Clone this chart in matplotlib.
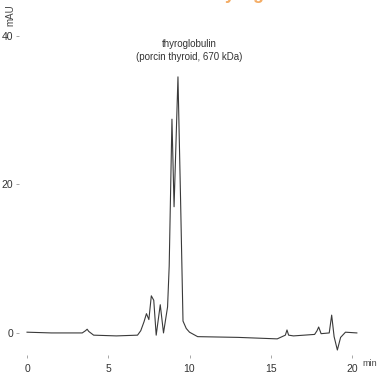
import matplotlib.pyplot as plt

plt.rcParams["font.family"] = ["Liberation Sans", "DejaVu Sans"]

# retention time (min) and absorbance (mAU)
time_min = [0.0, 1.5, 3.4, 3.6, 3.7, 3.8, 4.1, 5.5, 6.8, 7.0, 7.2, 7.35, 7.5,
            7.65, 7.8, 7.95, 8.2, 8.4, 8.65, 8.75, 8.92, 9.05, 9.29, 9.45,
            9.6, 9.8, 10.0, 10.5, 13.0, 15.4, 15.9, 16.0, 16.1, 16.4, 17.7,
            17.85, 17.95, 18.1, 18.6, 18.75, 18.9, 19.1, 19.3, 19.6, 20.3]
absorb = [0.1, 0.0, 0.0, 0.3, 0.5, 0.2, -0.3, -0.4, -0.3, 0.3, 1.5, 2.6, 1.8,
          5.0, 4.4, -0.3, 3.8, 0.0, 3.5, 9.0, 28.8, 17.0, 34.5, 18.0,
          1.6, 0.6, 0.1, -0.5, -0.6, -0.8, -0.3, 0.4, -0.3, -0.4, -0.2,
          0.3, 0.8, -0.1, 0.0, 2.4, -0.5, -2.3, -0.6, 0.1, 0.0]

x_ticks = [0, 5, 10, 15, 20]
y_ticks = [0, 20, 40]

fig = plt.figure(figsize=(3.83, 3.81), dpi=100)
ax = fig.add_axes([18.9 / 383, 1 - 355.2 / 381, (360.1 - 18.9) / 383, (355.2 - 21.2) / 381])

ax.plot(time_min, absorb, color="#3a3a3a", linewidth=0.8)

ax.set_xlim(-0.5, 20.5)
ax.set_ylim(-3, 42)
ax.set_xticks(x_ticks)
ax.set_yticks(y_ticks)
for s in ax.spines.values():
    s.set_visible(False)
ax.tick_params(axis="both", length=2, width=0.6, color="#999999",
               labelsize=7.5, labelcolor="#333333", pad=2)
ax.tick_params(axis="x", pad=4)

ax.text(10.0, 38.0, "thyroglobulin\n(porcin thyroid, 670 kDa)", ha="center",
        va="center", fontsize=7, color="#333333", linespacing=1.35)

fig.text(10 / 383, 1 - 15 / 381, "mAU", rotation=90, ha="center", va="center",
         fontsize=7, color="#444444")
fig.text(362 / 383, 1 - 363 / 381, "min", ha="left", va="center",
         fontsize=6.5, color="#444444")

# orange heading, almost entirely cut off by the top edge
fig.text(0.52, 1 + 1 / 381, "Gel filtration of thyroglobulin", ha="center",
         va="baseline", fontsize=13, fontweight="bold", color="#f08a24", alpha=0.7)

fig.savefig("out.png", dpi=100)
